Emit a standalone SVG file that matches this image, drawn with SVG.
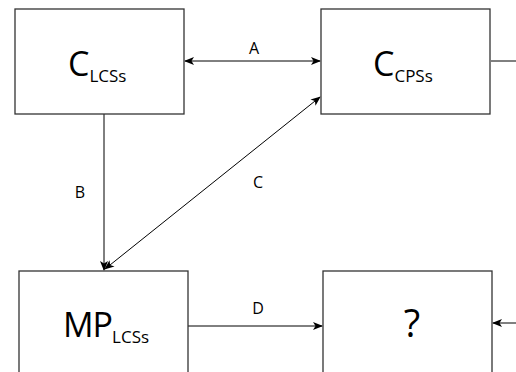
<svg xmlns="http://www.w3.org/2000/svg" width="516" height="372" viewBox="0 0 516 372">
<style>
.box{fill:#fff;stroke:#333;stroke-width:1.3}
.t{font-family:"Open Sans","DejaVu Sans",sans-serif;fill:#000}
.big{font-size:34px}
.sub{font-size:17px}
.lbl{font-size:16px}
.q{font-size:38px}
.e{fill:none;stroke:#000;stroke-width:1}
</style>
<defs>
<marker id="ah" viewBox="0 0 10 10" refX="9" refY="5" markerWidth="10" markerHeight="10" markerUnits="userSpaceOnUse" orient="auto-start-reverse">
<path d="M0,1 L10,5 L0,9 L2.5,5 Z" fill="#000"/>
</marker>
</defs>
<rect width="516" height="372" fill="#fff"/>
<g id="edges">
<line class="e" x1="185" y1="61" x2="320" y2="61" marker-start="url(#ah)" marker-end="url(#ah)"/>
<line class="e" x1="491" y1="61" x2="516" y2="61"/>
<line class="e" x1="104" y1="114" x2="104" y2="270" marker-end="url(#ah)"/>
<line class="e" x1="105" y1="269" x2="320" y2="97" marker-start="url(#ah)" marker-end="url(#ah)"/>
<line class="e" x1="188" y1="326" x2="322" y2="326" marker-end="url(#ah)"/>
<line class="e" x1="516" y1="323" x2="493" y2="323" marker-end="url(#ah)"/>
<text class="t lbl" x="254" y="54" text-anchor="middle">A</text>
<text class="t lbl" x="80" y="198" text-anchor="middle">B</text>
<text class="t lbl" x="258" y="188" text-anchor="middle">C</text>
<text class="t lbl" x="258" y="314" text-anchor="middle">D</text>
</g>
<g id="n1">
<rect class="box" x="15" y="9" width="169" height="105"/>
<text class="t" x="68" y="76"><tspan class="big">C</tspan><tspan class="sub" dy="6">LCSs</tspan></text>
</g>
<g id="n2">
<rect class="box" x="321" y="9" width="169" height="105"/>
<text class="t" x="373" y="76"><tspan class="big">C</tspan><tspan class="sub" dy="6">CPSs</tspan></text>
</g>
<g id="n3">
<rect class="box" x="19" y="271" width="169" height="110"/>
<text class="t" x="63" y="337"><tspan class="big" letter-spacing="-1">MP</tspan><tspan class="sub" dy="6">LCSs</tspan></text>
</g>
<g id="n4">
<rect class="box" x="323" y="271" width="169" height="110"/>
<text class="t q" x="412" y="337" text-anchor="middle">?</text>
</g>
</svg>
